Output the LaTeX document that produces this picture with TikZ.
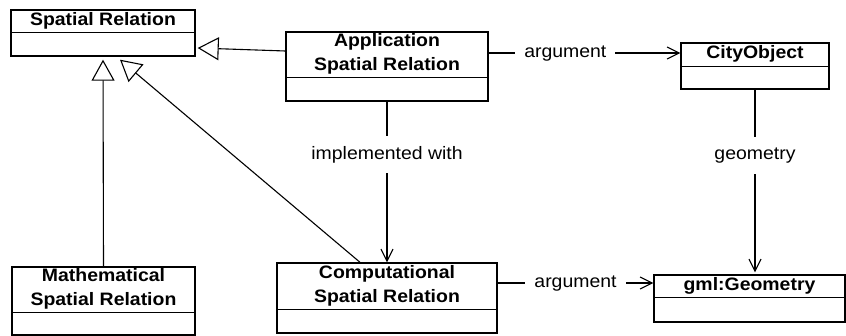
\documentclass[tikz,border=0pt]{standalone}
\usepackage{fontspec}
\setmainfont{Liberation Sans}[FakeStretch=1.08, BoldFeatures={FakeStretch=1.08}]
\usetikzlibrary{arrows.meta,calc}
\tikzset{
  umlbox/.style={draw, line width=1.4pt, inner sep=0pt, fill=white},
  title/.style={font=\fontsize{18}{24}\selectfont\bfseries, align=center, inner sep=0pt},
  onetitle/.style={title, text height=13pt, text depth=4pt},
  divider/.style={line width=1.4pt},
  gen/.style={line width=1.1pt, -{Triangle[open, length=21pt, width=23pt, line width=1.1pt]}},
  assoc/.style={line width=1.1pt, -{Straight Barb[length=12pt, width=12pt, line width=1.1pt]}},
  lbl/.style={fill=white, font=\fontsize{18}{24}\selectfont, text height=13pt, text depth=4pt, inner xsep=9pt, inner ysep=10pt}
}
\begin{document}
\begin{tikzpicture}[x=1pt,y=-1pt]
\useasboundingbox (0,0) rectangle (846,336);
% boxes
\node[umlbox, minimum width=184pt, minimum height=46pt] (sr) at (103,33) {};
\node[umlbox, minimum width=202pt, minimum height=69pt] (asr) at (387,66.5) {};
\node[umlbox, minimum width=148pt, minimum height=46pt] (city) at (755,66) {};
\node[umlbox, minimum width=183pt, minimum height=68pt] (msr) at (103.5,301) {};
\node[umlbox, minimum width=220pt, minimum height=70pt] (csr) at (387,298) {};
\node[umlbox, minimum width=191pt, minimum height=47pt] (geo) at (749.5,298.5) {};
% dividers
\draw[divider] ($(sr.north west)+(0,23)$) -- ($(sr.north east)+(0,23)$);
\draw[divider] ($(asr.north west)+(0,46)$) -- ($(asr.north east)+(0,46)$);
\draw[divider] ($(city.north west)+(0,24)$) -- ($(city.north east)+(0,24)$);
\draw[divider] ($(msr.north west)+(0,46)$) -- ($(msr.north east)+(0,46)$);
\draw[divider] ($(csr.north west)+(0,47)$) -- ($(csr.north east)+(0,47)$);
\draw[divider] ($(geo.north west)+(0,23)$) -- ($(geo.north east)+(0,23)$);
% titles
\node[onetitle] (srt) at ($(sr.north)+(0,11.5)$) {Spatial Relation};
\node[title] (asrt) at ($(asr.north)+(0,23)$) {Application\\Spatial Relation};
\node[onetitle] (cityt) at ($(city.north)+(0,12)$) {CityObject};
\node[title] (msrt) at ($(msr.north)+(0,23)$) {Mathematical\\Spatial Relation};
\node[title] (csrt) at ($(csr.north)+(0,23.5)$) {Computational\\Spatial Relation};
\node[onetitle] (geot) at ($(geo.north)+(0,11.5)$) {gml:Geometry};
% generalizations
\draw[gen] ([yshift=15.5pt]asr.west) -- ([xshift=2pt,yshift=-15pt]sr.east);
\draw[gen] (msr.north) -- ([yshift=-3pt]sr.south);
\draw[gen] ([xshift=-27pt]csr.north) -- ([xshift=17pt,yshift=-3pt]sr.south);
% associations
\draw[assoc] (asr.south) -- node[lbl, pos=0.33] (l1) {implemented with} (csr.north);
\draw[assoc] ([yshift=13.5pt]asr.east) -- node[lbl, pos=0.40] (l2) {argument} ([yshift=13pt]city.west);
\path (city.south |- geo.north) coordinate (gtop);
\draw[assoc] (city.south) -- node[lbl, pos=0.36] (l3) {geometry} ([yshift=2pt]gtop);
\draw[assoc] ([yshift=15pt]csr.east) -- node[lbl, pos=0.50] (l4) {argument} ([yshift=15.5pt]geo.west);
\end{tikzpicture}
\end{document}
